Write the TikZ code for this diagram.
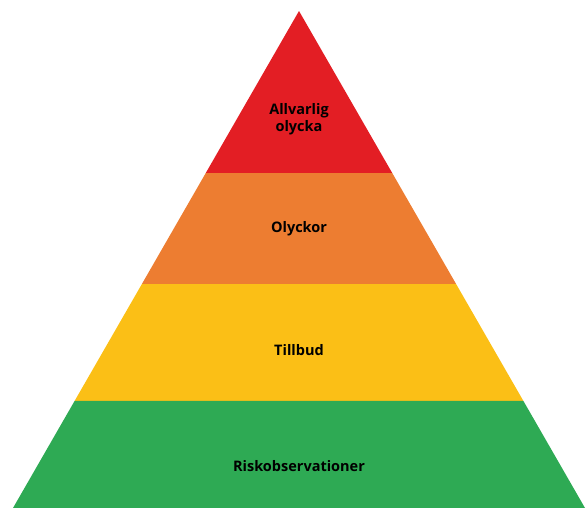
\documentclass[tikz,border=0pt]{standalone}
\usepackage{fontspec}
\setmainfont{Open Sans}
\definecolor{lvred}{HTML}{E31E24}
\definecolor{lvorange}{HTML}{ED7D31}
\definecolor{lvyellow}{HTML}{FBBF16}
\definecolor{lvgreen}{HTML}{2EAA54}
\begin{document}
\begin{tikzpicture}[x=1pt,y=-1pt,
  lbl/.style={font=\bfseries\fontsize{14.5}{17.5}\selectfont, text=black, align=center, inner sep=0pt}]
\useasboundingbox (0,0) rectangle (587,508);
% apex (299,11), base y=508 from 13 to 585
\coordinate (A) at (299,11);
\coordinate (BL) at (13,508);
\coordinate (BR) at (585,508);
\path (A) -- (BL) coordinate[pos=0.3260] (L1) coordinate[pos=0.5493] (L2) coordinate[pos=0.7847] (L3);
\path (A) -- (BR) coordinate[pos=0.3260] (R1) coordinate[pos=0.5493] (R2) coordinate[pos=0.7847] (R3);
\fill[lvred] (A) -- (R1) -- (L1) -- cycle;
\fill[lvorange] (L1) -- (R1) -- (R2) -- (L2) -- cycle;
\fill[lvyellow] (L2) -- (R2) -- (R3) -- (L3) -- cycle;
\fill[lvgreen] (L3) -- (R3) -- (BR) -- (BL) -- cycle;
\node[lbl] (t1) at (299,119) {Allvarlig\\olycka};
\node[lbl] (t2) at (299,229) {Olyckor};
\node[lbl] (t3) at (299,350) {Tillbud};
\node[lbl] (t4) at (299,466) {Riskobservationer};
\end{tikzpicture}
\end{document}
